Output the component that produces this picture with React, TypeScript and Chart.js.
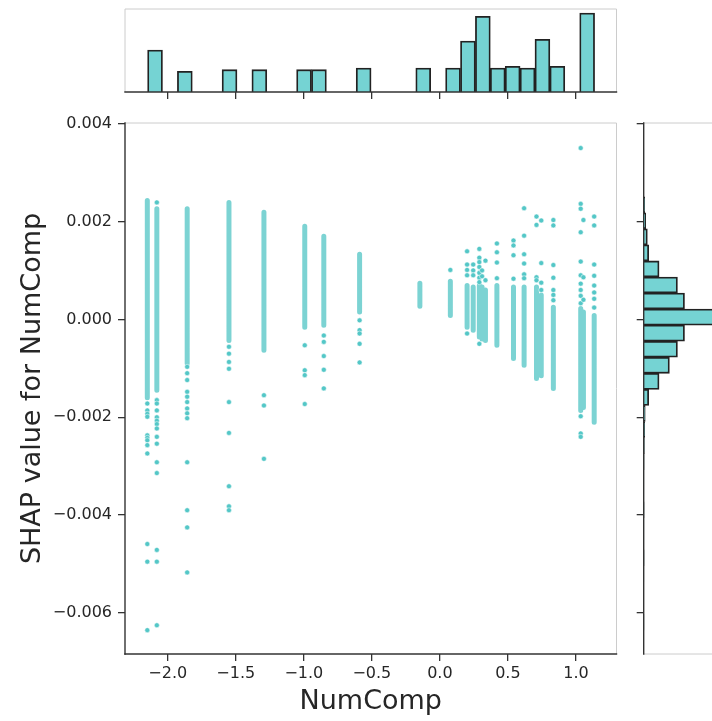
import React, { useEffect, useRef } from "react";
import { Chart, registerables } from "chart.js";

Chart.register(...registerables);

// ---------- data ----------
// x position of each vertical column of SHAP points (NumComp value)
const columnX = [-2.15, -2.08, -1.857, -1.55, -1.293, -0.993, -0.853, -0.59, -0.147, 0.077, 0.2, 0.245, 0.29, 0.31, 0.335, 0.419, 0.541, 0.619, 0.71, 0.745, 0.834, 1.035, 1.055, 1.134];
// dense (continuous) run of points in each column: top and bottom SHAP value
const denseHigh = [0.00243, 0.00226, 0.00226, 0.00239, 0.00219, 0.0019, 0.0017, 0.00133, 0.00074, 0.00078, 0.00069, 0.00066, 0.00069, 0.00066, 0.0006, 0.00069, 0.00066, 0.00066, 0.00066, 0.0005, 0.00025, 0.00022, 0.00015, 0.00008];
const denseLow = [-0.0016, -0.00145, -0.0009, -0.00043, -0.00063, -0.00016, -0.00012, 0.00015, 0.00027, 0.00008, -0.00016, -0.00022, -0.00036, -0.0004, -0.00043, -0.00053, -0.0008, -0.00094, -0.00121, -0.00115, -0.00141, -0.00186, -0.0018, -0.0021];
// isolated points of each column
const columnOutliers: number[][] = [
  [-0.00172, -0.00186, -0.00193, -0.00199, -0.00237, -0.00242, -0.00247, -0.00257, -0.00274, -0.00459, -0.00495, -0.00635],
  [0.00239, -0.00165, -0.00172, -0.00186, -0.002, -0.00207, -0.00214, -0.00223, -0.0024, -0.00254, -0.00292, -0.00314, -0.00471, -0.00495, -0.00625],
  [-0.00097, -0.0011, -0.00124, -0.00148, -0.00158, -0.00169, -0.00182, -0.00192, -0.00202, -0.00292, -0.0039, -0.00425, -0.00517],
  [-0.00056, -0.0007, -0.00087, -0.00101, -0.00169, -0.00232, -0.00341, -0.00382, -0.0039],
  [-0.00155, -0.00176, -0.00285],
  [-0.00053, -0.00104, -0.00114, -0.00173],
  [-0.00033, -0.00046, -0.00075, -0.00103, -0.00141],
  [-0.00002, -0.00022, -0.00029, -0.0005, -0.00088],
  [],
  [0.00101],
  [0.00139, 0.00112, 0.00101, 0.0009, -0.00029],
  [0.00112, 0.001, 0.0009],
  [0.00144, 0.00126, 0.00117, 0.00107, 0.00095, 0.00085, 0.00076, -0.0005],
  [0.001, 0.00088],
  [0.0012, 0.0008],
  [0.00155, 0.00137, 0.00116, 0.00084],
  [0.00161, 0.00151, 0.00131, 0.00083],
  [0.00227, 0.00171, 0.00133, 0.00114, 0.00092, 0.00084],
  [0.0021, 0.00193, 0.00086, 0.0008],
  [0.00202, 0.00115, 0.00075, 0.0006],
  [0.00203, 0.00192, 0.00111, 0.00085, 0.0006, 0.0005, 0.00039],
  [0.0035, 0.00236, 0.00226, 0.00178, 0.00118, 0.0009, 0.00073, 0.0006, 0.00048, 0.00033, -0.00198, -0.00233, -0.0024],
  [0.00203, 0.00086, 0.0004],
  [0.0021, 0.00192, 0.00112, 0.00089, 0.00069, 0.00055, 0.00042, 0.00024],
];

// marginal histogram over NumComp (30 bins)
const topBinMin = -2.148;
const topBinWidth = 0.1095;
const topCounts = [175, 0, 86, 0, 0, 93, 0, 93, 0, 0, 93, 93, 0, 0, 100, 0, 0, 0, 100, 0, 100, 212, 315, 100, 107, 100, 219, 107, 0, 329];

// marginal histogram over SHAP value (30 bins, bottom to top)
const rightBinMin = -0.00635;
const rightBinWidth = 0.000328;
const rightCounts = [2, 0, 0, 1, 3, 1, 1, 3, 1, 1, 3, 5, 8, 12, 40, 122, 204, 268, 324, 628, 324, 268, 122, 40, 29, 16, 8, 0, 0, 1];

const xTicks = [-2.0, -1.5, -1.0, -0.5, 0.0, 0.5, 1.0];
const yTicks = [-0.006, -0.004, -0.002, 0.0, 0.002, 0.004];
const xMin = -2.314;
const xMax = 1.298;
const yMin = -0.006837;
const yMax = 0.004012;
const topCountMax = 345.5;
const rightCountMax = 659;

// ---------- styles ----------
const FONT = "'DejaVu Sans', 'Liberation Sans', sans-serif";
const HIST_FILL = "#75d3d3";
const HIST_EDGE = "#222222";
const DARK = "#333333";
const LIGHT = "#cccccc";

const fmt = (v: number, d: number) => (v < 0 ? "\u2212" : "") + Math.abs(v).toFixed(d);

const framePlugin = {
  id: "frame",
  afterDatasetsDraw(chart: any, _args: any, opts: any) {
    const { ctx, chartArea } = chart;
    const { left, right, top, bottom } = chartArea;
    const line = (side: string) => {
      ctx.beginPath();
      if (side === "top") { ctx.moveTo(left, top); ctx.lineTo(right, top); }
      if (side === "bottom") { ctx.moveTo(left, bottom); ctx.lineTo(right, bottom); }
      if (side === "left") { ctx.moveTo(left, top); ctx.lineTo(left, bottom); }
      if (side === "right") { ctx.moveTo(right, top); ctx.lineTo(right, bottom); }
      ctx.stroke();
    };
    ctx.save();
    ctx.lineWidth = 1;
    ctx.strokeStyle = LIGHT;
    (opts.light || []).forEach(line);
    ctx.lineWidth = 1.4;
    ctx.strokeStyle = DARK;
    ctx.lineCap = "square";
    (opts.dark || []).forEach(line);
    ctx.restore();
  },
};

const tickGrid = {
  display: true,
  drawOnChartArea: false,
  drawTicks: true,
  tickLength: 7,
  tickColor: DARK,
  tickWidth: 1.3,
  color: DARK,
  lineWidth: 1.3,
  offset: false,
};

export default function App() {
  const mainRef = useRef<HTMLCanvasElement>(null);
  const topRef = useRef<HTMLCanvasElement>(null);
  const rightRef = useRef<HTMLCanvasElement>(null);

  useEffect(() => {
    const denseData: any[] = [];
    columnX.forEach((x, i) => {
      denseData.push({ x, y: denseHigh[i] });
      denseData.push({ x, y: denseLow[i] });
      denseData.push({ x, y: null });
    });
    const outlierData: any[] = [];
    columnX.forEach((x, i) => {
      columnOutliers[i].forEach((y) => outlierData.push({ x, y }));
    });

    const main = new Chart(mainRef.current!, {
      type: "scatter",
      data: {
        datasets: [
          {
            data: outlierData,
            pointRadius: 2.5,
            pointBackgroundColor: "rgb(84,199,199)",
            pointBorderColor: "rgba(255,255,255,0.85)",
            pointBorderWidth: 0.6,
            showLine: false,
            order: 1,
          } as any,
          {
            data: denseData,
            showLine: true,
            spanGaps: false,
            pointRadius: 0,
            borderColor: "rgba(62,190,190,0.68)",
            borderWidth: 5,
            borderCapStyle: "round",
            order: 2,
          } as any,
        ],
      },
      options: {
        animation: false,
        responsive: false,
        layout: { padding: { left: 0, top: 123, right: 95.5, bottom: 0 } },
        plugins: {
          legend: { display: false },
          tooltip: { enabled: false },
          frame: { light: ["top", "right"], dark: ["left", "bottom"] },
        } as any,
        scales: {
          x: {
            type: "linear",
            min: xMin,
            max: xMax,
            afterBuildTicks: (s: any) => { s.ticks = xTicks.map((v) => ({ value: v })); },
            afterFit: (s: any) => { s.height = 67; },
            ticks: {
              font: { family: FONT, size: 16 },
              color: "#262626",
              padding: 3,
              maxRotation: 0,
              autoSkip: false,
              callback: (v: any) => fmt(Number(v), 1),
            },
            grid: tickGrid as any,
            border: { display: false },
            title: {
              display: true,
              text: "NumComp",
              font: { family: FONT, size: 27 },
              color: "#262626",
              padding: { top: 0, bottom: 3 },
            },
          },
          y: {
            type: "linear",
            min: yMin,
            max: yMax,
            afterBuildTicks: (s: any) => { s.ticks = yTicks.map((v) => ({ value: v })); },
            afterFit: (s: any) => { s.width = 125; },
            ticks: {
              font: { family: FONT, size: 16 },
              color: "#262626",
              padding: 6,
              autoSkip: false,
              callback: (v: any) => fmt(Number(v), 3),
            },
            grid: tickGrid as any,
            border: { display: false },
            title: {
              display: true,
              text: "SHAP value for NumComp",
              font: { family: FONT, size: 27 },
              color: "#262626",
              padding: { top: 17, bottom: 0 },
            },
          },
        },
      },
      plugins: [framePlugin],
    } as any);

    const top = new Chart(topRef.current!, {
      type: "bar",
      data: {
        datasets: [
          {
            data: topCounts.map((c, i) => ({ x: topBinMin + (i + 0.5) * topBinWidth, y: c })),
            backgroundColor: HIST_FILL,
            borderColor: HIST_EDGE,
            borderWidth: 1.8,
            borderSkipped: "start",
            barPercentage: 1,
            categoryPercentage: 1,
          } as any,
        ],
      },
      options: {
        animation: false,
        responsive: false,
        layout: { padding: { left: 125, right: 95.5, top: 9, bottom: 721 - 92 - 8 } },
        plugins: {
          legend: { display: false },
          tooltip: { enabled: false },
          frame: { light: ["top", "left", "right"], dark: ["bottom"] },
        } as any,
        scales: {
          x: {
            type: "linear",
            min: xMin,
            max: xMax,
            offset: false,
            afterBuildTicks: (s: any) => { s.ticks = xTicks.map((v) => ({ value: v })); },
            afterFit: (s: any) => { s.height = 8; },
            ticks: { display: false },
            grid: tickGrid as any,
            border: { display: false },
          },
          y: { type: "linear", min: 0, max: topCountMax, display: false },
        },
      },
      plugins: [framePlugin],
    } as any);

    const right = new Chart(rightRef.current!, {
      type: "bar",
      data: {
        datasets: [
          {
            data: rightCounts.map((c, i) => ({ y: rightBinMin + (i + 0.5) * rightBinWidth, x: c })),
            backgroundColor: HIST_FILL,
            borderColor: HIST_EDGE,
            borderWidth: 1.8,
            borderSkipped: "start",
            barPercentage: 1,
            categoryPercentage: 1,
          } as any,
        ],
      },
      options: {
        animation: false,
        responsive: false,
        indexAxis: "y",
        layout: { padding: { left: 643.7 - 7, right: 740 - 726.7, top: 123, bottom: 67 } },
        plugins: {
          legend: { display: false },
          tooltip: { enabled: false },
          frame: { light: ["top", "right", "bottom"], dark: ["left"] },
        } as any,
        scales: {
          y: {
            type: "linear",
            position: "left",
            min: yMin,
            max: yMax,
            offset: false,
            afterBuildTicks: (s: any) => { s.ticks = yTicks.map((v) => ({ value: v })); },
            afterFit: (s: any) => { s.width = 7; },
            ticks: { display: false },
            grid: tickGrid as any,
            border: { display: false },
          },
          x: { type: "linear", min: 0, max: rightCountMax, display: false },
        },
      },
      plugins: [framePlugin],
    } as any);

    return () => {
      main.destroy();
      top.destroy();
      right.destroy();
    };
  }, []);

  const abs: React.CSSProperties = { position: "absolute", left: 0, top: 0 };
  return (
    <div
      style={{
        position: "fixed",
        left: 0,
        top: 0,
        width: 712,
        height: 721,
        overflow: "hidden",
        background: "#ffffff",
      }}
    >
      <canvas ref={topRef} width={712} height={721} style={{ ...abs, width: 712, height: 721 }} />
      <canvas ref={rightRef} width={740} height={721} style={{ ...abs, width: 740, height: 721 }} />
      <canvas ref={mainRef} width={712} height={721} style={{ ...abs, width: 712, height: 721 }} />
    </div>
  );
}
